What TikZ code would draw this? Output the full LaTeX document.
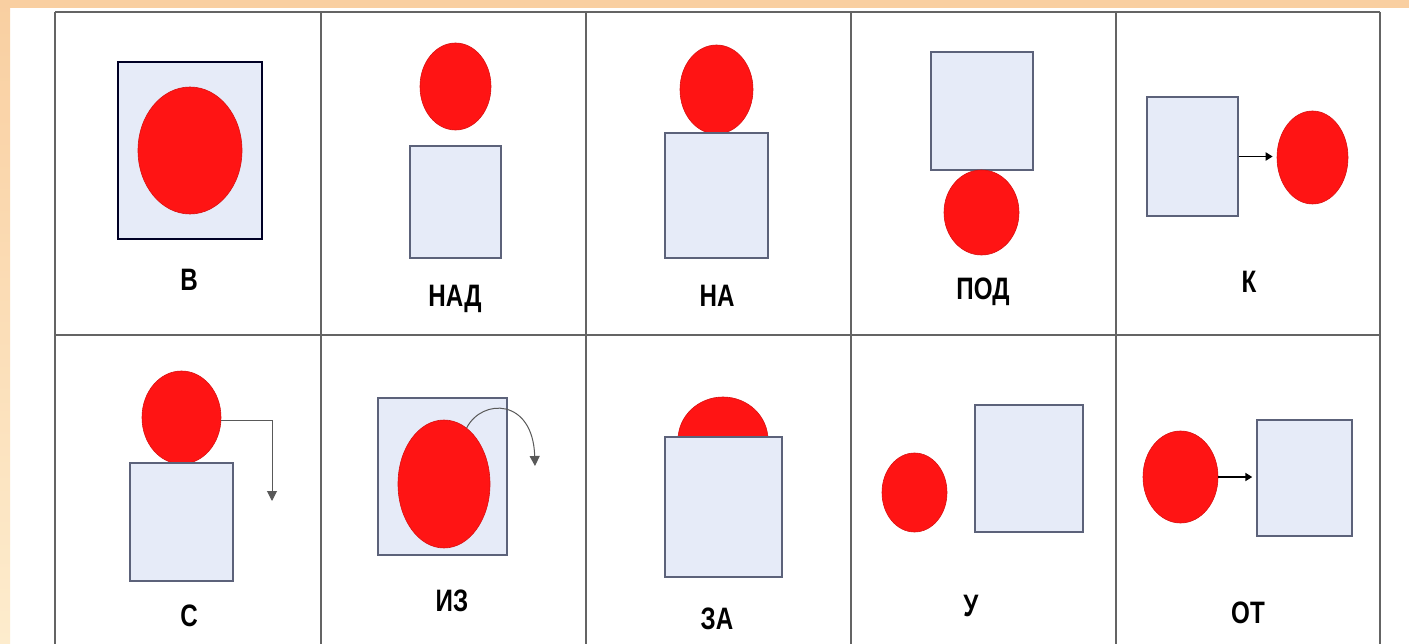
\documentclass[tikz,border=0pt]{standalone}
\usepackage{fontspec}
\setmainfont{Liberation Sans}
\newfontfamily\lblfont[FakeStretch=0.78]{Liberation Sans Bold}
\usetikzlibrary{shapes.geometric,arrows.meta}
\definecolor{ballred}{RGB}{255,20,20}
\definecolor{boxfill}{RGB}{230,235,248}
\definecolor{boxline}{RGB}{92,98,122}
\definecolor{gridline}{RGB}{100,100,100}
\definecolor{frametop}{RGB}{249,207,161}
\definecolor{framebot}{RGB}{253,236,205}
\tikzset{
  ball/.style={ellipse, fill=ballred, draw=ballred!85!black, line width=0.6pt, inner sep=0pt},
  box/.style={rectangle, fill=boxfill, draw=boxline, line width=1.4pt, inner sep=0pt},
  lbl/.style={font=\lblfont\fontsize{31}{33}\selectfont, anchor=base, inner sep=0pt},
  grid/.style={draw=gridline, line width=1.3pt},
  blackarrow/.style={draw=black, line width=1.8pt, -{Triangle[length=7pt,width=8pt]}},
  grayarrow/.style={draw=gray!70!black, line width=1pt, -{Triangle[length=10pt,width=10pt]}},
}
\begin{document}
\begin{tikzpicture}[x=1pt,y=-1pt]
\useasboundingbox (0,0) rectangle (1409,644);
% background
\fill[white] (0,0) rectangle (1409,644);
\shade[top color=frametop, bottom color=framebot] (0,0) rectangle (10,644);
\fill[frametop] (0,0) rectangle (1409,8);
% grid
\foreach \gx in {55,321,586,851,1116,1380} \draw[grid] (\gx,12) -- (\gx,644);
\draw[grid] (55,12) -- (1380,12);
\draw[grid] (55,335) -- (1380,335);

% 1 В
\node[box, draw=black!85!blue, line width=2.4pt, minimum width=144pt, minimum height=177pt] (v-box) at (190,150.5) {};
\node[ball, minimum width=104pt, minimum height=127pt] (v-ball) at (190,150.5) {};
\node[lbl] (v-lbl) at (189,291) {В};

% 2 НАД
\node[ball, minimum width=71pt, minimum height=87pt] (nad-ball) at (455.5,86.5) {};
\node[box, minimum width=91pt, minimum height=112pt] (nad-box) at (455.5,202) {};
\node[lbl] (nad-lbl) at (455,307) {НАД};

% 3 НА
\node[ball, minimum width=73pt, minimum height=89pt] (na-ball) at (716.5,89.5) {};
\node[box, minimum width=103pt, minimum height=125pt] (na-box) at (716.5,195.5) {};
\node[lbl] (na-lbl) at (717,307) {НА};

% 4 ПОД
\node[box, minimum width=102pt, minimum height=118pt] (pod-box) at (982,111) {};
\node[ball, minimum width=75pt, minimum height=85pt] (pod-ball) at (981.5,212.5) {};
\node[lbl] (pod-lbl) at (983,300) {ПОД};

% 5 К
\node[box, minimum width=91pt, minimum height=119pt] (k-box) at (1192.5,156.5) {};
\node[ball, minimum width=71pt, minimum height=93pt] (k-ball) at (1312.5,157.5) {};
\draw[blackarrow, shorten >=4pt] (k-box.east) -- (k-box.east -| k-ball.west);
\node[lbl] (k-lbl) at (1249,293) {К};

% 6 С
\node[ball, minimum width=79pt, minimum height=93pt] (s-ball) at (181.5,417.5) {};
\node[box, minimum width=103pt, minimum height=118pt] (s-box) at (181.5,522) {};
\coordinate (s-end) at (272,501);
\draw[grayarrow] ([yshift=-2.5pt]s-ball.east) -| (s-end);
\node[lbl] (s-lbl) at (189,626) {С};

% 7 ИЗ
\node[box, minimum width=129pt, minimum height=157pt] (iz-box) at (442.5,476.5) {};
\node[ball, minimum width=92pt, minimum height=128pt] (iz-ball) at (444,484) {};
\coordinate (iz-end) at (535,466);
\draw[grayarrow] (iz-ball.68) .. controls (482,398) and (533,398) .. (iz-end);
\node[lbl] (iz-lbl) at (452,611) {ИЗ};

% 8 ЗА
\node[ball, minimum width=90pt, minimum height=86pt] (za-ball) at (723,440) {};
\node[box, minimum width=117pt, minimum height=140pt] (za-box) at (723.5,507) {};
\node[lbl] (za-lbl) at (717,629) {ЗА};

% 9 У
\node[ball, minimum width=65pt, minimum height=79pt] (u-ball) at (914.5,492.5) {};
\node[box, minimum width=108pt, minimum height=127pt] (u-box) at (1029,468.5) {};
\node[lbl] (u-lbl) at (971,616) {У};

% 10 ОТ
\node[ball, minimum width=75pt, minimum height=92pt] (ot-ball) at (1180.5,477) {};
\node[box, minimum width=95pt, minimum height=116pt] (ot-box) at (1304.5,478) {};
\draw[blackarrow, shorten >=4pt] (ot-ball.east) -- (ot-ball.east -| ot-box.west);
\node[lbl] (ot-lbl) at (1248,623) {ОТ};
\end{tikzpicture}
\end{document}
